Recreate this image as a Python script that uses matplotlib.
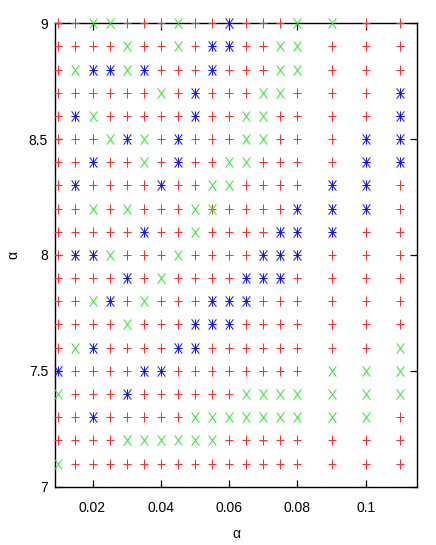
import matplotlib
matplotlib.use("Agg")
import matplotlib.pyplot as plt
from matplotlib.path import Path

# grid of parameter values
alpha_vals = [0.01, 0.015, 0.02, 0.025, 0.03, 0.035, 0.04, 0.045, 0.05,
              0.055, 0.06, 0.065, 0.07, 0.075, 0.08, 0.09, 0.1, 0.11]
a_vals = [9.0, 8.9, 8.8, 8.7, 8.6, 8.5, 8.4, 8.3, 8.2, 8.1,
          8.0, 7.9, 7.8, 7.7, 7.6, 7.5, 7.4, 7.3, 7.2, 7.1]

# outcome per cell: '+' red, 'x' green, '*' blue, '&' red and green
grid_rows = [
    "++xx+++x++*+++xx++",
    "++++x++x+**++xx+++",
    "+x**x*+++*+++xx+++",
    "++++++x+*+++xx+++*",
    "+*x+++++*++xx++++*",
    "+++x*x+*+++xx+++**",
    "++*++x+*++xx++++**",
    "+*++++*++xx++++**+",
    "++x+x+++x&++++***+",
    "+++++*++x++++***++",
    "+**x+++x++++***+++",
    "++++*+x++++***++++",
    "++x*+x+++***++++++",
    "++++x+++***+++++++",
    "+x*++++**++++++++x",
    "*++++**++++++++xxx",
    "x+++*++++++xxxxxxx",
    "++*+++++xxxxxxxxx+",
    "++++xxxxxx++++++++",
    "x+++++++++++++++++",
]

xticks = [0.02, 0.04, 0.06, 0.08, 0.1]
xtick_labels = ["0.02", "0.04", "0.06", "0.08", "0.1"]
yticks = [7, 7.5, 8, 8.5, 9]
ytick_labels = ["7", "7.5", "8", "8.5", "9"]

M, L = Path.MOVETO, Path.LINETO
plus = Path([(-0.8, 0), (0.8, 0), (0, -1), (0, 1)], [M, L, M, L])
cross = Path([(-0.75, -1), (0.75, 1), (-0.75, 1), (0.75, -1)], [M, L, M, L])
star = Path([(-0.8, 0), (0.8, 0), (0, -1), (0, 1),
             (-0.75, -1), (0.75, 1), (-0.75, 1), (0.75, -1)],
            [M, L, M, L, M, L, M, L])

styles = {
    "+": (plus, "#ff2a2a"),
    "x": (cross, "#30e830"),
    "*": (star, "#1010ff"),
}

pts = {"+": ([], []), "x": ([], []), "*": ([], [])}
for a, row in zip(a_vals, grid_rows):
    for al, c in zip(alpha_vals, row):
        kinds = ["+", "x"] if c == "&" else [c]
        for k in kinds:
            pts[k][0].append(al)
            pts[k][1].append(a)

plt.rcParams["font.family"] = ["Liberation Sans", "DejaVu Sans"]

fig = plt.figure(figsize=(4.36, 5.45), dpi=100)
ax = fig.add_axes([0.1261, 0.1070, 0.8303, 0.8503])

for k in ["+", "x", "*"]:
    marker, color = styles[k]
    ax.plot(pts[k][0], pts[k][1], linestyle="none", marker=marker,
            markersize=7.4, markeredgewidth=0.7, markeredgecolor=color,
            markerfacecolor="none", clip_on=False, zorder=3)

ax.set_xlim(0.009, 0.115)
ax.set_ylim(7, 9)
ax.set_xticks(xticks)
ax.set_xticklabels(xtick_labels)
ax.set_yticks(yticks)
ax.set_yticklabels(ytick_labels)
ax.tick_params(direction="in", top=True, right=True, length=5, width=0.9,
               labelsize=10)
ax.tick_params(axis="x", pad=10)
ax.tick_params(axis="y", pad=5)
for s in ax.spines.values():
    s.set_linewidth(1.0)

ax.set_xlabel("α", fontsize=10, labelpad=9)
ax.set_ylabel("α", fontsize=10, labelpad=6)

fig.savefig("out.png", dpi=100)
